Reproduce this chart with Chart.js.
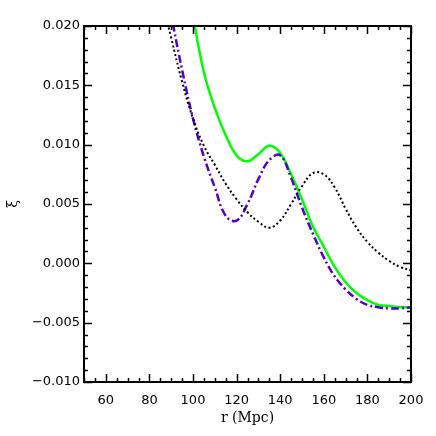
<!DOCTYPE html>
<html>
<head>
<meta charset="utf-8">
<script src="https://cdn.jsdelivr.net/npm/chart.js@4"></script>
<style>
  html, body { margin: 0; padding: 0; background: #fff; }
</style>
</head>
<body>
<canvas id="xiChart" width="436" height="436"></canvas>
<script>
// --------------------
// Data
// --------------------
const rVals = [85, 90, 95, 100, 105, 110, 115, 120, 125, 130, 135, 140,
               145, 150, 155, 160, 165, 170, 175, 180, 185, 190, 195, 200];

const xiGreen = [null, null, 0.0267, 0.0209, 0.0161, 0.0131, 0.0108, 0.0091,
                 0.0086, 0.0092, 0.0099, 0.0093, 0.0075, 0.0054, 0.0031, 0.0014,
                 -0.0003, -0.0016, -0.0025, -0.0031, -0.0035, -0.0036, -0.0037, -0.0037];

const xiPurple = [0.0255, 0.0209, 0.0163, 0.0122, 0.0090, 0.0064, 0.0040, 0.0036,
                  0.0050, 0.0071, 0.0087, 0.0091, 0.0072, 0.0047, 0.0025, 0.0005,
                  -0.0011, -0.0022, -0.0030, -0.0035, -0.0037, -0.0038, -0.0038, -0.0037];

const xiBlack = [0.0228, 0.0190, 0.0153, 0.0122, 0.0099, 0.0083, 0.0067, 0.0054,
                 0.0043, 0.0035, 0.0030, 0.0036, 0.0050, 0.0065, 0.0076, 0.0075,
                 0.0064, 0.0046, 0.0030, 0.0018, 0.0009, 0.0002, -0.0003, -0.0006];

const xTickVals = [60, 80, 100, 120, 140, 160, 180, 200];
const yTickVals = [-0.010, -0.005, 0.000, 0.005, 0.010, 0.015, 0.020];

function toPoints(ys) {
  return rVals.map((r, i) => ({ x: r, y: ys[i] }));
}

// --------------------
// Frame + inward ticks on all four sides (IDL style)
// --------------------
const frameTicks = {
  id: 'frameTicks',
  afterDatasetsDraw(chart) {
    const { ctx, chartArea: a, scales } = chart;
    const xs = scales.x, ys = scales.y;
    ctx.save();
    ctx.strokeStyle = '#000';
    ctx.lineWidth = 1.5;

    // x ticks every 5, major every 20
    for (let v = 50; v <= 200; v += 5) {
      const px = Math.round(xs.getPixelForValue(v)) + 0.5;
      const len = (v % 20 === 0) ? 8 : 4;
      ctx.beginPath();
      ctx.moveTo(px, a.bottom); ctx.lineTo(px, a.bottom - len);
      ctx.moveTo(px, a.top); ctx.lineTo(px, a.top + len);
      ctx.stroke();
    }
    // y ticks every 0.001, major every 0.005
    for (let k = -10; k <= 20; k++) {
      const py = Math.round(ys.getPixelForValue(k / 1000)) + 0.5;
      const len = (k % 5 === 0) ? 8 : 4;
      ctx.beginPath();
      ctx.moveTo(a.left, py); ctx.lineTo(a.left + len, py);
      ctx.moveTo(a.right, py); ctx.lineTo(a.right - len, py);
      ctx.stroke();
    }

    ctx.lineWidth = 2;
    ctx.strokeRect(a.left, a.top, a.right - a.left, a.bottom - a.top);
    ctx.restore();
  }
};

// --------------------
// Chart
// --------------------
const ctx = document.getElementById('xiChart').getContext('2d');

new Chart(ctx, {
  type: 'line',
  data: {
    datasets: [
      {
        label: 'black',
        data: toPoints(xiBlack),
        borderColor: '#000000',
        borderWidth: 2,
        borderDash: [2, 2.5],
        pointRadius: 0,
        tension: 0.4,
        fill: false
      },
      {
        label: 'purple',
        data: toPoints(xiPurple),
        borderColor: '#5000d0',
        borderWidth: 2.5,
        borderDash: [8, 3, 2, 3],
        pointRadius: 0,
        tension: 0.4,
        fill: false
      },
      {
        label: 'green',
        data: toPoints(xiGreen),
        borderColor: '#00ff00',
        borderWidth: 2.5,
        pointRadius: 0,
        tension: 0.4,
        fill: false
      }
    ]
  },
  options: {
    responsive: false,
    animation: false,
    devicePixelRatio: 1,
    layout: { padding: { top: 26, right: 25, left: 0, bottom: 9 } },
    plugins: {
      legend: { display: false },
      tooltip: { enabled: false }
    },
    scales: {
      x: {
        type: 'linear',
        min: 50,
        max: 200,
        afterFit(scale) { scale.height = 45; },
        afterBuildTicks(scale) { scale.ticks = xTickVals.map(v => ({ value: v })); },
        grid: { display: false, drawTicks: false },
        border: { display: false },
        ticks: {
          padding: 11,
          autoSkip: false,
          color: '#000',
          font: { family: 'DejaVu Sans', size: 13 },
          maxRotation: 0,
          callback: v => String(v)
        },
        title: {
          display: true,
          text: 'r (Mpc)',
          color: '#000',
          font: { family: 'DejaVu Serif', size: 14 },
          padding: { top: 0, bottom: 0 }
        }
      },
      y: {
        type: 'linear',
        min: -0.010,
        max: 0.020,
        afterFit(scale) { scale.width = 84; },
        afterBuildTicks(scale) { scale.ticks = yTickVals.map(v => ({ value: v })); },
        grid: { display: false, drawTicks: false },
        border: { display: false },
        ticks: {
          padding: 4,
          autoSkip: false,
          color: '#000',
          font: { family: 'DejaVu Sans', size: 13 },
          callback: v => (v < 0 ? '\u2212' : '') + Math.abs(v).toFixed(3)
        },
        title: {
          display: true,
          text: 'ξ',
          color: '#000',
          font: { family: 'DejaVu Serif', size: 14 },
          padding: { top: 5, bottom: 0 }
        }
      }
    }
  },
  plugins: [frameTicks]
});
</script>
</body>
</html>
